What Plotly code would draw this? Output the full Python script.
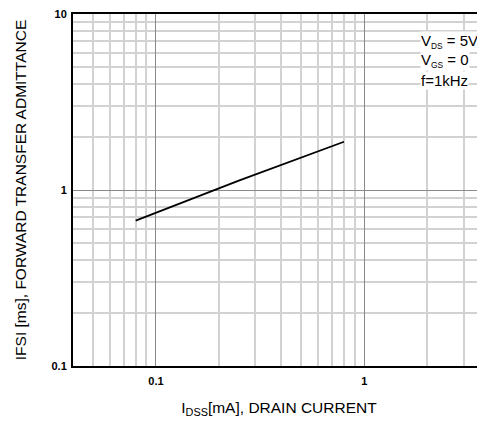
import plotly.graph_objects as go

# Data
idss_ma = [0.08, 0.25, 0.8]
yfs_ms = [0.67, 1.13, 1.88]

x_tick_vals = [0.1, 1]
x_tick_text = ["0.1", "1"]
y_tick_vals = [0.1, 1, 10]
y_tick_text = ["0.1", "1", "10"]

x_minor = [0.05, 0.06, 0.07, 0.08, 0.09, 0.2, 0.3, 0.4, 0.5, 0.6, 0.7, 0.8, 0.9, 2, 3]
y_minor = [m * d for d in (0.1, 1) for m in range(2, 10)]

BIG = '<span style="font-size:15px">{}</span>'
conditions = [BIG.format("V") + "<sub>DS</sub>" + BIG.format(" = 5V"),
              BIG.format("V") + "<sub>GS</sub>" + BIG.format(" = 0"),
              BIG.format("f=1kHz")]

FONT = "Liberation Sans, Arial, sans-serif"

fig = go.Figure()
fig.add_trace(go.Scatter(x=idss_ma, y=yfs_ms, mode="lines",
                         line=dict(color="black", width=1.8),
                         showlegend=False, hoverinfo="skip"))

# page body has an 8px margin: keep the figure inside the window (no scrollbar)
fig.update_layout(
    width=477, height=410,
    margin=dict(l=65, r=0, t=4, b=52),
    plot_bgcolor="white", paper_bgcolor="white",
    font=dict(family=FONT, color="black"),
    showlegend=False,
)

fig.update_xaxes(
    type="log", range=[-1.398, 0.58],
    tickvals=x_tick_vals, ticktext=x_tick_text,
    tickfont=dict(family=FONT, size=11, color="black", weight="bold"),
    showgrid=True, gridcolor="#8a8a8a", gridwidth=1,
    minor=dict(tickvals=x_minor, showgrid=True, gridcolor="#d2d2d2", gridwidth=1.5, ticks=""),
    showline=True, linecolor="black", linewidth=2, mirror=True,
    ticks="outside", ticklen=4, tickcolor="rgba(0,0,0,0)",
    zeroline=False, ticklabeloverflow="allow",
    title=dict(text="I<sub>DSS</sub>[mA], DRAIN CURRENT", font=dict(size=15.5, family=FONT), standoff=16),
)
fig.update_yaxes(
    type="log", range=[-1, 1],
    tickvals=y_tick_vals, ticktext=y_tick_text,
    tickfont=dict(family=FONT, size=11, color="black", weight="bold"),
    showgrid=True, gridcolor="#8a8a8a", gridwidth=1,
    minor=dict(tickvals=y_minor, showgrid=True, gridcolor="#d2d2d2", gridwidth=1.5, ticks=""),
    showline=True, linecolor="black", linewidth=2, mirror=False,
    ticks="outside", ticklen=2, tickcolor="rgba(0,0,0,0)",
    zeroline=False, ticklabeloverflow="allow",
    title=dict(text="IFSI [ms], FORWARD TRANSFER ADMITTANCE", font=dict(size=15.5, family=FONT), standoff=21),
)

for i, txt in enumerate(conditions):
    fig.add_annotation(xref="paper", yref="paper", x=0.843, y=0.922 - i * 0.055,
                       xanchor="left", yanchor="middle", text=txt, showarrow=False,
                       font=dict(family=FONT, size=12, color="black"),
                       bgcolor="white", borderpad=0)

fig.write_html("out.html")
